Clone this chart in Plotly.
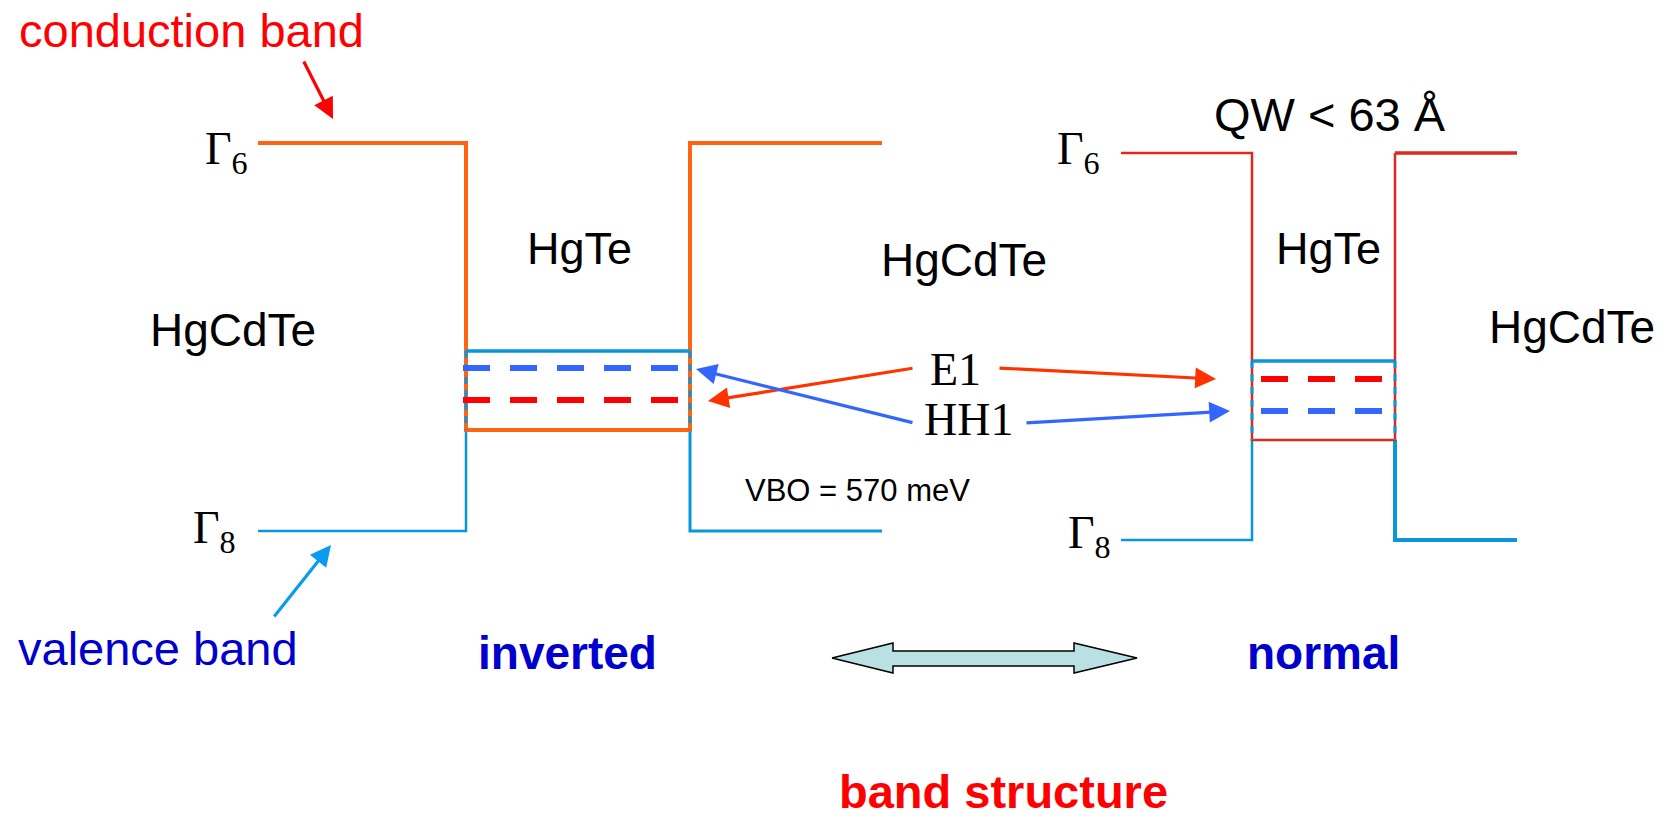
import plotly.graph_objects as go

W, H = 1666, 818
PAGE_MARGIN = 8  # default body margin of the page that holds the figure

# ---------------- data (diagram coordinates in px of the page) ----------------
# left (inverted) well
inv_cb_x = [258, 466, 466, 690, 690, 882]
inv_cb_y = [143, 143, 430, 430, 143, 143]
inv_vb_left_x = [258, 466, 466]
inv_vb_left_y = [531, 531, 430]
inv_vb_right_x = [690, 690, 882]
inv_vb_right_y = [430, 531, 531]
inv_vb_top_x = [466, 690]
inv_vb_top_y = [351, 351]
inv_wall_x = [466, 690]
inv_wall_y = [351, 430]
inv_hh1_x = [463, 680]
inv_hh1_y = [368, 368]
inv_e1_x = [463, 680]
inv_e1_y = [400, 400]

# right (normal) well
nor_cb_left_x = [1121, 1252, 1252, 1395, 1395]
nor_cb_left_y = [153, 153, 440, 440, 153]
nor_cb_right_x = [1395, 1517]
nor_cb_right_y = [153, 153]
nor_vb_left_x = [1121, 1252, 1252]
nor_vb_left_y = [540, 540, 440]
nor_vb_right_x = [1395, 1395, 1517]
nor_vb_right_y = [440, 540, 540]
nor_vb_top_x = [1252, 1395]
nor_vb_top_y = [361, 361]
nor_wall_x = [1252, 1395]
nor_wall_y = [361, 440]
nor_e1_x = [1261, 1384]
nor_e1_y = [379, 379]
nor_hh1_x = [1261, 1384]
nor_hh1_y = [411, 411]

# double arrow (inverted <-> normal)
dbl_x = [832, 893, 893, 1074, 1074, 1137, 1074, 1074, 893, 893, 832]
dbl_y = [658, 643, 651, 651, 643, 658, 673, 666, 666, 673, 658]

# arrows: (tip_x, tip_y, tail_x, tail_y, colour)
arrows = [
    (333, 119, 303, 60, "#FF0000"),     # conduction band pointer
    (331, 545, 273, 618, "#0A9BF0"),    # valence band pointer
    (708, 401, 914, 368, "#FF3300"),    # E1 -> inverted
    (1216, 379, 998, 368, "#FF3300"),   # E1 -> normal
    (696, 369, 914, 423, "#3366FF"),    # HH1 -> inverted
    (1230, 411, 1025, 423, "#3366FF"),  # HH1 -> normal
]

# text labels: (text, x, y, size, colour, family, bold)
labels = [
    ("conduction band", 191, 30, 47, "#FF0000", "Liberation Sans", False),
    ("valence band", 158, 648, 47, "#0000CC", "Liberation Sans", False),
    ("HgCdTe", 233, 330, 46, "#000000", "Liberation Sans", False),
    ("HgTe", 579, 248, 45, "#000000", "Liberation Sans", False),
    ("HgCdTe", 964, 260, 46, "#000000", "Liberation Sans", False),
    ("HgTe", 1328, 248, 45, "#000000", "Liberation Sans", False),
    ("HgCdTe", 1572, 327, 46, "#000000", "Liberation Sans", False),
    ("QW < 63 Å", 1330, 114, 47, "#000000", "Liberation Sans", False),
    ("E1", 955, 369, 46, "#000000", "Liberation Serif", False),
    ("HH1", 968, 419, 46, "#000000", "Liberation Serif", False),
    ("VBO = 570 meV", 857, 490, 31, "#000000", "Liberation Sans", False),
    ("inverted", 567, 653, 46, "#0000CC", "Liberation Sans", True),
    ("normal", 1323, 653, 46, "#0000CC", "Liberation Sans", True),
    ("band structure", 1003, 791, 47, "#FF0000", "Liberation Sans", True),
]

# Gamma labels: (subscript, left x, centre y)
gammas = [("6", 203, 152), ("8", 191, 531), ("6", 1055, 152), ("8", 1066, 536)]

# ---------------- colours ----------------
ORANGE = "#FF6410"
RED_LINE = "#DC2A1E"
BLUE_LINE = "#0A96DC"
DASH_BLUE = "#3366FF"
DASH_RED = "#FF0000"

fig = go.Figure()


def line(x, y, color, width, dash="solid"):
    fig.add_trace(go.Scatter(x=x, y=y, mode="lines", hoverinfo="skip",
                             line=dict(color=color, width=width, dash=dash)))


# inverted well
line(inv_vb_left_x, inv_vb_left_y, BLUE_LINE, 2.5)
line(inv_vb_right_x, inv_vb_right_y, BLUE_LINE, 3)
line(inv_cb_x, inv_cb_y, ORANGE, 4)
line(inv_vb_top_x, inv_vb_top_y, BLUE_LINE, 3.5)
for xv in inv_wall_x:
    line([xv, xv], inv_wall_y, BLUE_LINE, 3, "7px,6px")
line(inv_hh1_x, inv_hh1_y, DASH_BLUE, 6, "27px,20px")
line(inv_e1_x, inv_e1_y, DASH_RED, 6, "27px,20px")

# normal well
line(nor_vb_left_x, nor_vb_left_y, BLUE_LINE, 2.5)
line(nor_vb_right_x, nor_vb_right_y, BLUE_LINE, 4)
line(nor_cb_left_x, nor_cb_left_y, RED_LINE, 2.5)
line(nor_cb_right_x, nor_cb_right_y, RED_LINE, 3.5)
line(nor_vb_top_x, nor_vb_top_y, BLUE_LINE, 3.5)
for xv in nor_wall_x:
    line([xv, xv], nor_wall_y, BLUE_LINE, 3, "7px,6px")
line(nor_e1_x, nor_e1_y, DASH_RED, 6, "27px,20px")
line(nor_hh1_x, nor_hh1_y, DASH_BLUE, 6, "27px,20px")

# double arrow
fig.add_trace(go.Scatter(x=dbl_x, y=dbl_y, mode="lines", fill="toself",
                         fillcolor="#B9E0E3", hoverinfo="skip",
                         line=dict(color="#000000", width=1.5)))

annotations = []
for tx, ty, sx, sy, col in arrows:
    annotations.append(dict(x=tx, y=ty, ax=sx, ay=sy, xref="x", yref="y",
                            axref="x", ayref="y", text="", showarrow=True,
                            arrowhead=2, arrowsize=1.3, arrowwidth=3.2,
                            arrowcolor=col, standoff=0, startstandoff=0))

for text, x, y, size, col, fam, bold in labels:
    annotations.append(dict(x=x, y=y, xref="x", yref="y", showarrow=False,
                            text=f"<b>{text}</b>" if bold else text,
                            xanchor="center", yanchor="middle",
                            font=dict(size=size, color=col, family=fam)))

for sub, x, y in gammas:
    annotations.append(dict(x=x, y=y, xref="x", yref="y", showarrow=False,
                            text=f"Γ<sub>{sub}</sub>", xanchor="left",
                            yanchor="middle",
                            font=dict(size=46, color="#000000",
                                      family="Liberation Serif")))

# the page puts the figure 8px in from the top-left, so the figure is sized
# and ranged to map diagram coordinates straight onto window pixels
fig.update_layout(
    width=W - PAGE_MARGIN, height=H - PAGE_MARGIN,
    margin=dict(l=0, r=0, t=0, b=0),
    paper_bgcolor="white", plot_bgcolor="white",
    showlegend=False,
    xaxis=dict(range=[PAGE_MARGIN, W], visible=False, fixedrange=True),
    yaxis=dict(range=[H, PAGE_MARGIN], visible=False, fixedrange=True),
    annotations=annotations,
)

fig.write_html("out.html")
